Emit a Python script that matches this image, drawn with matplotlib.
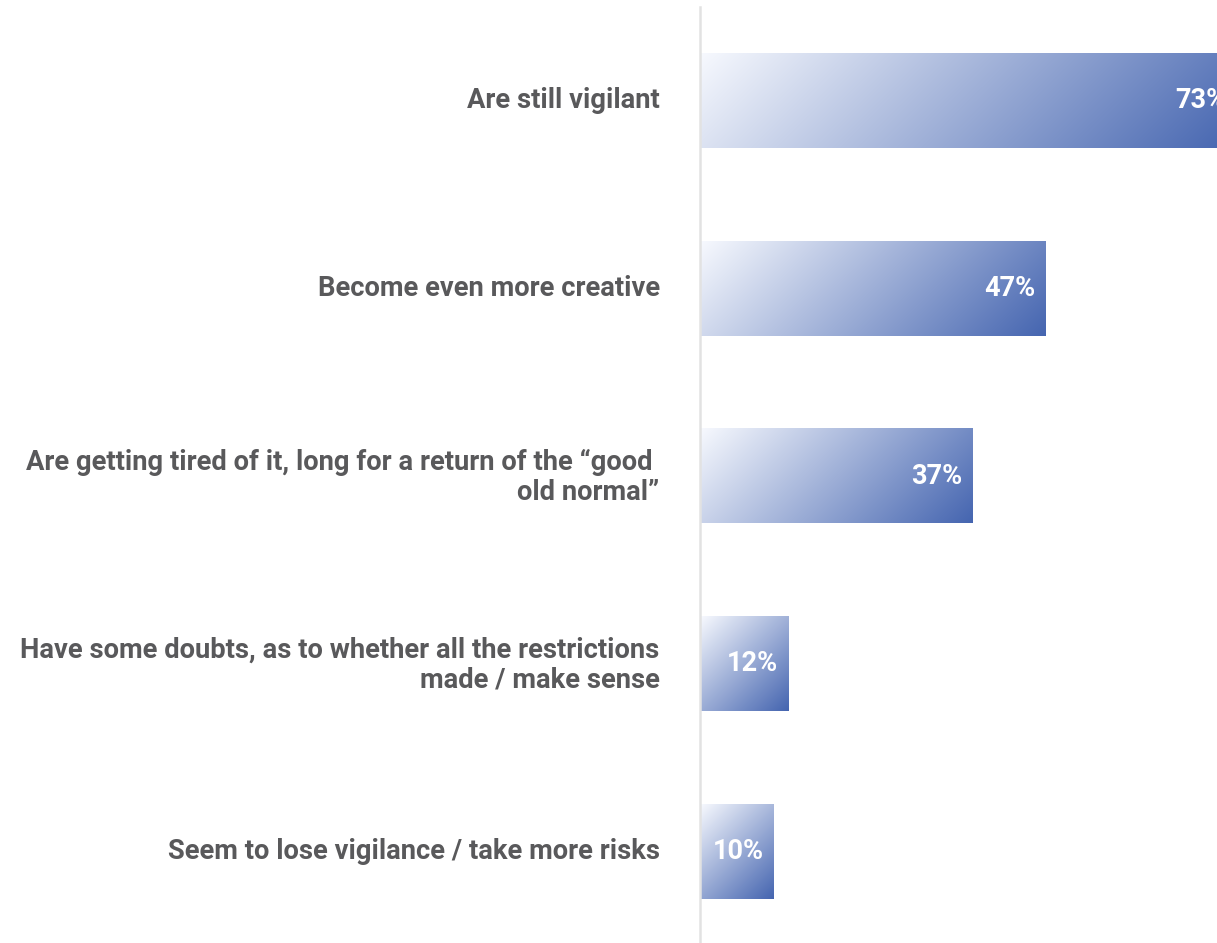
import numpy as np
import matplotlib.pyplot as plt
from matplotlib.colors import to_rgb
from matplotlib.transforms import ScaledTranslation

plt.rcParams['font.family'] = ['Liberation Sans Narrow', 'Roboto', 'DejaVu Sans']

categories = [
    "Are still vigilant",
    "Become even more creative",
    "Are getting tired of it, long for a return of the \u201cgood \nold normal\u201d",
    "Have some doubts, as to whether all the restrictions\nmade / make sense",
    "Seem to lose vigilance / take more risks",
]
values = [73, 47, 37, 12, 10]

c_start = np.array(to_rgb("#f7f9fe"))
c_end = np.array(to_rgb("#4565b0"))
label_col = "#59595b"

fig = plt.figure(figsize=(12.17, 9.43), dpi=100)
ax = fig.add_axes([700 / 1217, -2 / 943, 517 / 1217, 938 / 943])
ax.set_xlim(0, 70.3)
ax.set_ylim(4.5, -0.5)

bar_h = 0.505
y = np.arange(len(values))
bars = ax.barh(y, values, height=bar_h, color="none", edgecolor="none")

# pixels per data unit, used to run the gradient at 45 degrees on screen
px_x = ax.bbox.width / 70.3
px_y = ax.bbox.height / 5.0

for b, v, yi in zip(bars, values, y):
    w_px = v * px_x
    h_px = bar_h * px_y
    nx, ny = int(w_px), int(h_px)
    u = np.linspace(0, 1, nx)[None, :]
    s = np.linspace(0, 1, ny)[:, None]
    t = (u * w_px + s * h_px) / (w_px + h_px)
    img = c_start[None, None, :] * (1 - t[..., None]) + c_end[None, None, :] * t[..., None]
    ax.imshow(img, extent=(0, v, yi + bar_h / 2, yi - bar_h / 2),
              aspect="auto", interpolation="bilinear", zorder=2)
    ax.text(v - 10 / px_x, yi, f"{v}%", ha="right", va="center",
            color="white", fontsize=19.5, fontweight="bold", zorder=3,
            clip_on=False)

ax.set_xlim(0, 70.3)
ax.set_ylim(4.5, -0.5)
ax.set_yticks(y)
ax.set_yticklabels(categories, fontsize=19.7, fontweight="bold", color=label_col,
                   multialignment="right", linespacing=1.15)
ax.tick_params(axis="y", length=0, pad=29)
# nudge the category labels up a little
shift = ScaledTranslation(0, 3 / 100, fig.dpi_scale_trans)
for lbl in ax.get_yticklabels():
    lbl.set_transform(lbl.get_transform() + shift)
ax.set_xticks([])
for side in ["top", "right", "bottom"]:
    ax.spines[side].set_visible(False)
ax.spines["left"].set_color("#e2e2e2")
ax.spines["left"].set_linewidth(1.8)

fig.savefig("out.png", dpi=100)
